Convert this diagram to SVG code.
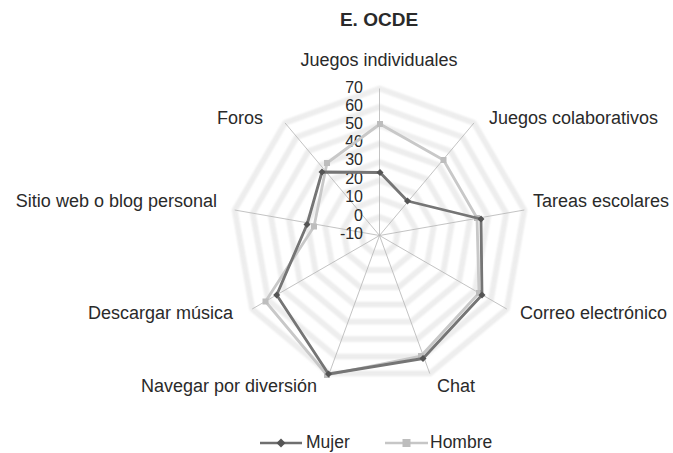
<svg xmlns="http://www.w3.org/2000/svg" width="673" height="453" viewBox="0 0 673 453">
<style>
text{font-family:"Liberation Sans",Arial,sans-serif;fill:#2a2a2a}
.lbl{font-size:18px}
.leg{font-size:17.5px}
.tick{font-size:16px;text-anchor:end}
.ring{fill:none;stroke:#e6e6e6;stroke-width:5;stroke-linejoin:round}
.ringi{fill:none;stroke:#f6f6f6;stroke-width:1.4;stroke-linejoin:round}
.axis{stroke:#b4b4b4;stroke-width:0.8}
.mujer{fill:none;stroke:#747474;stroke-width:2.8;stroke-linejoin:round}
.hombre{fill:none;stroke:#c8c8c8;stroke-width:2.8;stroke-linejoin:round}
</style>
<defs>
<filter id="soft" x="-5%" y="-5%" width="110%" height="110%"><feGaussianBlur stdDeviation="0.9"/></filter>
<filter id="soft2" x="-5%" y="-5%" width="110%" height="110%"><feGaussianBlur stdDeviation="0.7"/></filter>
<marker id="mD" markerUnits="userSpaceOnUse" markerWidth="10" markerHeight="10" refX="5" refY="5" viewBox="0 0 10 10"><path d="M5 1.5 L8.5 5 L5 8.5 L1.5 5 Z" fill="#555"/></marker>
<marker id="mS" markerUnits="userSpaceOnUse" markerWidth="10" markerHeight="10" refX="5" refY="5" viewBox="0 0 10 10"><rect x="2" y="2" width="6" height="6" fill="#bdbdbd"/></marker>
</defs>
<rect width="673" height="453" fill="#fff"/>
<text x="379" y="26" font-size="19" font-weight="bold" text-anchor="middle" fill="#111">E. OCDE</text>
<g id="grid" filter="url(#soft)">
<g class="ring">
<polygon points="379.5,217.1 391.3,221.4 397.6,232.3 395.4,244.7 385.8,252.8 373.2,252.8 363.6,244.7 361.4,232.3 367.7,221.4"/>
<polygon points="379.5,198.75 403.1,207.3 415.7,229.1 411.3,253.9 392.1,270 366.9,270 347.7,253.9 343.3,229.1 355.9,207.3"/>
<polygon points="379.5,180.4 414.9,193.3 433.8,225.9 427.2,263.1 398.4,287.3 360.6,287.3 331.8,263.1 325.2,225.9 344.1,193.3"/>
<polygon points="379.5,162 426.7,179.2 451.9,222.7 443.2,272.25 404.6,304.6 354.4,304.6 315.8,272.25 307.1,222.7 332.3,179.2"/>
<polygon points="379.5,143.6 438.6,165.1 470,219.6 459.1,281.4 410.9,321.8 348.1,321.8 299.9,281.4 289,219.6 320.4,165.1"/>
<polygon points="379.5,125.25 450.4,151 488.1,216.4 475,290.6 417.2,339.1 341.8,339.1 284,290.6 270.9,216.4 308.6,151"/>
<polygon points="379.5,106.9 462.2,137 506.2,213.2 490.9,299.8 423.5,356.4 335.5,356.4 268.1,299.8 252.8,213.2 296.8,137"/>
<polygon points="379.5,88.5 474,122.9 524.3,210 506.8,309 429.8,373.6 329.2,373.6 252.2,309 234.7,210 285,122.9"/>
</g>
<g class="ringi">
<polygon points="379.5,217.1 391.3,221.4 397.6,232.3 395.4,244.7 385.8,252.8 373.2,252.8 363.6,244.7 361.4,232.3 367.7,221.4"/>
<polygon points="379.5,198.75 403.1,207.3 415.7,229.1 411.3,253.9 392.1,270 366.9,270 347.7,253.9 343.3,229.1 355.9,207.3"/>
<polygon points="379.5,180.4 414.9,193.3 433.8,225.9 427.2,263.1 398.4,287.3 360.6,287.3 331.8,263.1 325.2,225.9 344.1,193.3"/>
<polygon points="379.5,162 426.7,179.2 451.9,222.7 443.2,272.25 404.6,304.6 354.4,304.6 315.8,272.25 307.1,222.7 332.3,179.2"/>
<polygon points="379.5,143.6 438.6,165.1 470,219.6 459.1,281.4 410.9,321.8 348.1,321.8 299.9,281.4 289,219.6 320.4,165.1"/>
<polygon points="379.5,125.25 450.4,151 488.1,216.4 475,290.6 417.2,339.1 341.8,339.1 284,290.6 270.9,216.4 308.6,151"/>
<polygon points="379.5,106.9 462.2,137 506.2,213.2 490.9,299.8 423.5,356.4 335.5,356.4 268.1,299.8 252.8,213.2 296.8,137"/>
<polygon points="379.5,88.5 474,122.9 524.3,210 506.8,309 429.8,373.6 329.2,373.6 252.2,309 234.7,210 285,122.9"/>
</g>
</g>
<g id="axes">
<line class="axis" x1="379.5" y1="235.5" x2="379.5" y2="88.5"/>
<line class="axis" x1="379.5" y1="235.5" x2="474" y2="122.9"/>
<line class="axis" x1="379.5" y1="235.5" x2="524.3" y2="210"/>
<line class="axis" x1="379.5" y1="235.5" x2="506.8" y2="309"/>
<line class="axis" x1="379.5" y1="235.5" x2="429.8" y2="373.6"/>
<line class="axis" x1="379.5" y1="235.5" x2="329.2" y2="373.6"/>
<line class="axis" x1="379.5" y1="235.5" x2="252.2" y2="309"/>
<line class="axis" x1="379.5" y1="235.5" x2="234.7" y2="210"/>
<line class="axis" x1="379.5" y1="235.5" x2="285" y2="122.9"/>
</g>
<g id="ticks">
<text class="tick" x="363" y="93">70</text>
<text class="tick" x="363" y="110.5">60</text>
<text class="tick" x="363" y="128.5">50</text>
<text class="tick" x="363" y="147.3">40</text>
<text class="tick" x="363" y="165">30</text>
<text class="tick" x="363" y="184">20</text>
<text class="tick" x="363" y="202.4">10</text>
<text class="tick" x="363" y="221.3">0</text>
<text class="tick" x="363" y="239">-10</text>
</g>
<g id="series" filter="url(#soft2)">
<polygon id="hombre" class="hombre" marker-start="url(#mS)" marker-mid="url(#mS)" points="380,124 443.5,160 477,218 479,293 421,356 327,375 265.5,301.5 314,226.5 327,163"/>
<polygon id="mujer" class="mujer" marker-start="url(#mD)" marker-mid="url(#mD)" points="380,172.5 407.5,201 481,219 482,295 423,358.5 328.5,374 276.7,295 307,224.5 322,172"/>
</g>
<g id="labels">
<text class="lbl" x="379" y="66" text-anchor="middle">Juegos individuales</text>
<text class="lbl" x="489" y="124">Juegos colaborativos</text>
<text class="lbl" x="533" y="207">Tareas escolares</text>
<text class="lbl" x="520" y="319">Correo electrónico</text>
<text class="lbl" x="437" y="392">Chat</text>
<text class="lbl" x="317" y="392" text-anchor="end">Navegar por diversión</text>
<text class="lbl" x="233" y="319" text-anchor="end">Descargar música</text>
<text class="lbl" x="217" y="207" text-anchor="end">Sitio web o blog personal</text>
<text class="lbl" x="263" y="124" text-anchor="end">Foros</text>
</g>
<g id="legend">
<line x1="260" y1="443" x2="302" y2="443" stroke="#6f6f6f" stroke-width="2.6"/>
<path d="M281 438.5 L285.5 443 L281 447.5 L276.5 443 Z" fill="#555"/>
<text class="leg" x="306" y="448">Mujer</text>
<line x1="385" y1="443" x2="428" y2="443" stroke="#c6c6c6" stroke-width="2.6"/>
<rect x="402.5" y="439" width="8" height="8" fill="#bdbdbd"/>
<text class="leg" x="430" y="448">Hombre</text>
</g>
</svg>
